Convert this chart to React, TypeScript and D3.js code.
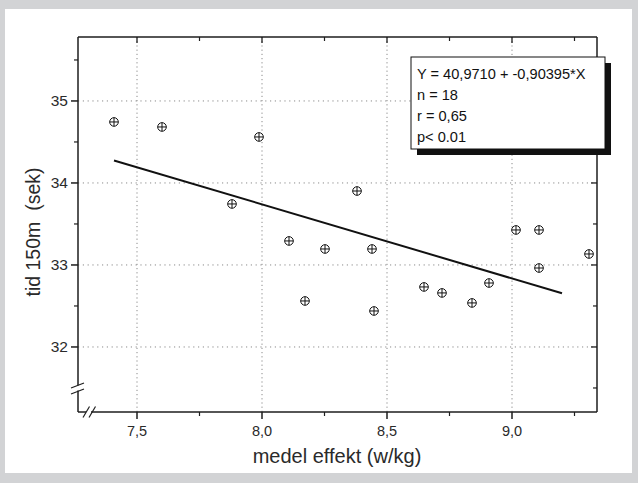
import React from "react";
import * as d3 from "d3";

const xValues = [7.408, 7.6, 7.988, 7.88, 8.108, 8.252, 8.172, 8.38, 8.44, 8.448, 8.648, 8.72, 8.84, 8.908, 9.016, 9.108, 9.108, 9.308];
const yValues = [34.744, 34.683, 34.561, 33.744, 33.293, 33.195, 32.561, 33.902, 33.195, 32.439, 32.732, 32.659, 32.537, 32.78, 33.427, 33.427, 32.963, 33.134];
const xTicks = [7.5, 8.0, 8.5, 9.0];
const xMinorTicks = [7.75, 8.25, 8.75, 9.25];
const yTicks = [32, 33, 34, 35];
const yMinorTicks = [32.5, 33.5, 34.5, 35.5];
const yMinorRight = [31.5, 32.5, 33.5, 34.5, 35.5];
const fitIntercept = 40.971;
const fitSlope = -0.90395;
const fitRange = [7.408, 9.2];
const legendLines = ["Y = 40,9710 + -0,90395*X", "n = 18", "r = 0,65", "p< 0.01"];
const xLabel = "medel effekt (w/kg)";
const yLabel = "tid 150m  (sek)";

const FONT = "'Liberation Sans', Arial, Helvetica, sans-serif";
const INK = "#1e1e1e";

export default function App() {
  const W = 638, H = 483;
  const left = 78, right = 597, top = 37, bottom = 412;
  const x = d3.scaleLinear().domain([7.264, 9.34]).range([left, right]);
  const y = d3.scaleLinear().domain([31.207, 35.78]).range([bottom, top]);
  const fmt = (v: number) => v.toFixed(1).replace(".", ",");
  const line = d3.line<number>().x((d) => x(d)).y((d) => y(fitIntercept + fitSlope * d));

  return (
    <svg width={W} height={H} style={{ position: "absolute", left: 0, top: 0, display: "block" }} fontFamily={FONT}>
      <rect x={0} y={0} width={W} height={H} fill="#d2d3d5" />
      <rect x={5} y={9} width={627} height={464} fill="#ffffff" />
      {/* grid */}
      {xTicks.map((t) => (
        <line key={"gx" + t} x1={x(t)} x2={x(t)} y1={top} y2={bottom} stroke="#8a8a8a" strokeWidth={1} strokeDasharray="1.2,3" />
      ))}
      {yTicks.map((t) => (
        <line key={"gy" + t} x1={left} x2={right} y1={y(t)} y2={y(t)} stroke="#8a8a8a" strokeWidth={1} strokeDasharray="1.2,3.6" />
      ))}
      {/* frame */}
      <line x1={left} x2={right} y1={top} y2={top} stroke={INK} strokeWidth={1.3} />
      <line x1={right} x2={right} y1={top} y2={bottom} stroke={INK} strokeWidth={1.5} />
      <line x1={left} x2={right} y1={bottom} y2={bottom} stroke={INK} strokeWidth={1.5} />
      <line x1={left} x2={left} y1={top} y2={bottom} stroke={INK} strokeWidth={1.5} />
      {/* bottom ticks */}
      {xTicks.map((t) => (
        <g key={"bt" + t}>
          <line x1={x(t)} x2={x(t)} y1={bottom} y2={bottom + 7} stroke={INK} strokeWidth={1.5} />
          <line x1={x(t)} x2={x(t)} y1={top} y2={top + 6} stroke={INK} strokeWidth={1.3} />
          <text x={x(t)} y={bottom + 24} textAnchor="middle" fontSize={14.5} fill="#2a2a2a">{fmt(t)}</text>
        </g>
      ))}
      {xMinorTicks.map((t) => (
        <g key={"bm" + t}>
          <line x1={x(t)} x2={x(t)} y1={bottom} y2={bottom + 4} stroke={INK} strokeWidth={1.2} />
          <line x1={x(t)} x2={x(t)} y1={top} y2={top + 4} stroke={INK} strokeWidth={1.2} />
        </g>
      ))}
      {/* left ticks */}
      {yTicks.map((t) => (
        <g key={"lt" + t}>
          <line x1={left - 7} x2={left} y1={y(t)} y2={y(t)} stroke={INK} strokeWidth={1.5} />
          <line x1={right - 6} x2={right} y1={y(t)} y2={y(t)} stroke={INK} strokeWidth={1.3} />
          <text x={left - 10} y={y(t)} dy="0.35em" textAnchor="end" fontSize={15.5} fill="#2a2a2a">{t}</text>
        </g>
      ))}
      {yMinorTicks.map((t) => (
        <line key={"lm" + t} x1={left - 4} x2={left} y1={y(t)} y2={y(t)} stroke={INK} strokeWidth={1.2} />
      ))}
      {yMinorRight.map((t) => (
        <line key={"rm" + t} x1={right - 4} x2={right} y1={y(t)} y2={y(t)} stroke={INK} strokeWidth={1.2} />
      ))}
      {/* axis breaks */}
      <rect x={left - 2} y={385.5} width={4} height={5} fill="#ffffff" />
      <line x1={left - 7} x2={left + 6} y1={388} y2={383} stroke={INK} strokeWidth={1.2} />
      <line x1={left - 7} x2={left + 6} y1={394} y2={389} stroke={INK} strokeWidth={1.2} />
      <rect x={86} y={bottom - 2} width={5} height={4} fill="#ffffff" />
      <line x1={83} x2={89.5} y1={417.5} y2={406.5} stroke={INK} strokeWidth={1.2} />
      <line x1={89} x2={95.5} y1={417.5} y2={406.5} stroke={INK} strokeWidth={1.2} />
      {/* regression line */}
      <path d={line(fitRange) || ""} fill="none" stroke="#111" strokeWidth={2} />
      {/* points */}
      {xValues.map((xv, i) => {
        const cx = x(xv), cy = y(yValues[i]);
        return (
          <g key={"p" + i} stroke="#111" strokeWidth={1} fill="none">
            <circle cx={cx} cy={cy} r={4.3} fill="#fff" />
            <line x1={cx - 4.3} x2={cx + 4.3} y1={cy} y2={cy} />
            <line x1={cx} x2={cx} y1={cy - 4.3} y2={cy + 4.3} />
          </g>
        );
      })}
      {/* legend */}
      <rect x={417} y={63} width={194} height={92} fill="#111" />
      <rect x={411} y={57} width={194} height={92} fill="#fff" stroke="#111" strokeWidth={1} />
      {legendLines.map((s, i) => (
        <text key={"lg" + i} x={417} y={79 + i * 21} fontSize={14.6} fill="#111">{s}</text>
      ))}
      {/* axis labels */}
      <text x={x(8.3)} y={463} textAnchor="middle" fontSize={20} fill="#2a2a2a">{xLabel}</text>
      <text transform={`translate(40,232) rotate(-90)`} textAnchor="middle" fontSize={19.5} fill="#2a2a2a" style={{ whiteSpace: "pre" }}>{yLabel}</text>
    </svg>
  );
}
